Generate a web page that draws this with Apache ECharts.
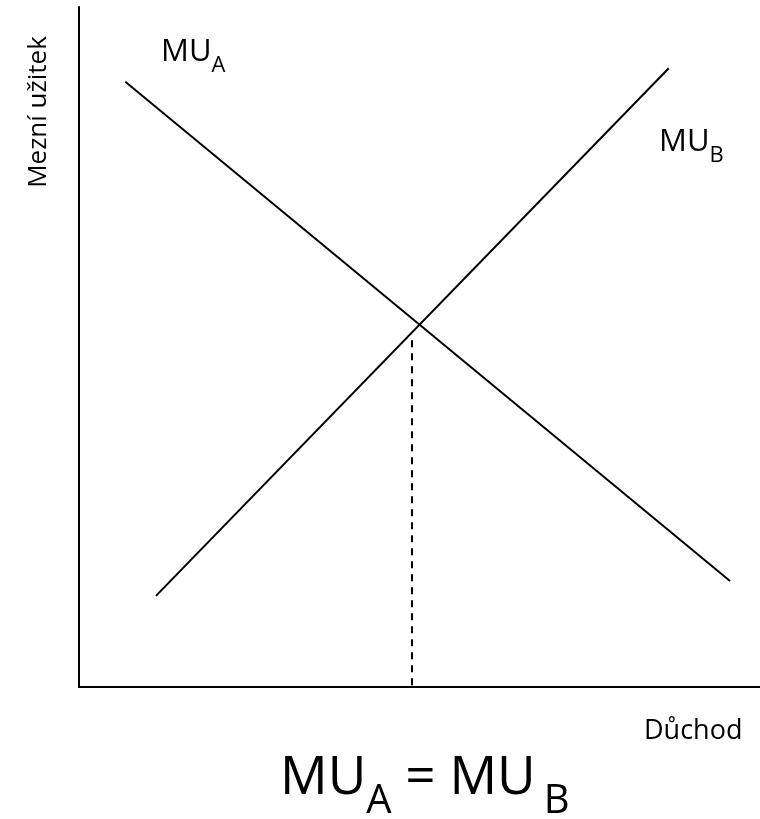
<!DOCTYPE html>
<html>
<head>
<meta charset="utf-8">
<script src="https://cdn.jsdelivr.net/npm/echarts@6/dist/echarts.min.js"></script>
<style>
  html, body { margin: 0; padding: 0; background: #fff; }
  #chart { width: 760px; height: 819px; }
</style>
</head>
<body>
<div id="chart"></div>
<script>
// curve end points in axis units (0..100)
const muA = [[6.8, 89], [95.6, 15.6]];
const muB = [[11.3, 13.4], [86.6, 91]];
const equilibrium = [[48.9, 51], [48.9, 0]];

const FONT = "Open Sans";

const chart = echarts.init(document.getElementById("chart"));

// label with subscript, e.g. MU_A
function subLabel(main, sub, size, subSize, drop) {
  return {
    text: "{m|" + main + "}{s|" + sub + "}",
    fill: "#000",
    rich: {
      m: { fontFamily: FONT, fontSize: size, verticalAlign: "bottom" },
      s: { fontFamily: FONT, fontSize: subSize, padding: [0, 0, -drop, 0], verticalAlign: "bottom" },
    },
  };
}

chart.setOption({
  backgroundColor: "#fff",
  animation: false,
  grid: { left: 79, top: 7, right: 0, bottom: 132 },
  xAxis: {
    type: "value",
    min: 0,
    max: 100,
    axisLine: { show: true, onZero: false, lineStyle: { color: "#000", width: 2 } },
    axisTick: { show: false },
    axisLabel: { show: false },
    splitLine: { show: false },
  },
  yAxis: {
    type: "value",
    min: 0,
    max: 100,
    axisLine: { show: true, onZero: false, lineStyle: { color: "#000", width: 2 } },
    axisTick: { show: false },
    axisLabel: { show: false },
    splitLine: { show: false },
  },
  series: [
    {
      name: "MU_A",
      type: "line",
      data: muA,
      symbol: "none",
      lineStyle: { color: "#000", width: 2 },
    },
    {
      name: "MU_B",
      type: "line",
      data: muB,
      symbol: "none",
      lineStyle: { color: "#000", width: 2 },
    },
    {
      name: "equilibrium",
      type: "line",
      data: equilibrium,
      symbol: "none",
      lineStyle: { color: "#000", width: 2, type: [7, 6] },
    },
  ],
  graphic: [
    {
      type: "text",
      x: 39,
      y: 112,
      rotation: Math.PI / 2,
      style: {
        text: "Mezní užitek",
        font: "26px '" + FONT + "'",
        fill: "#000",
        align: "center",
        verticalAlign: "middle",
      },
    },
    {
      type: "text",
      left: 161,
      top: 37,
      style: subLabel("MU", "A", 31, 22, 9),
    },
    {
      type: "text",
      left: 659,
      top: 127,
      style: subLabel("MU", "B", 31, 22, 9),
    },
    {
      type: "text",
      left: 644,
      top: 718,
      style: {
        text: "Důchod",
        font: "27px '" + FONT + "'",
        fill: "#000",
      },
    },
    {
      type: "text",
      left: 280,
      top: 752,
      style: {
        text: "{m|MU}{s|A}{m| = MU}{g|}{s|B}",
        fill: "#000",
        rich: {
          m: { fontFamily: FONT, fontSize: 53, verticalAlign: "bottom" },
          g: { width: 8 },
          s: { fontFamily: FONT, fontSize: 40, padding: [0, 0, -17, 0], verticalAlign: "bottom" },
        },
      },
    },
  ],
});
</script>
</body>
</html>
